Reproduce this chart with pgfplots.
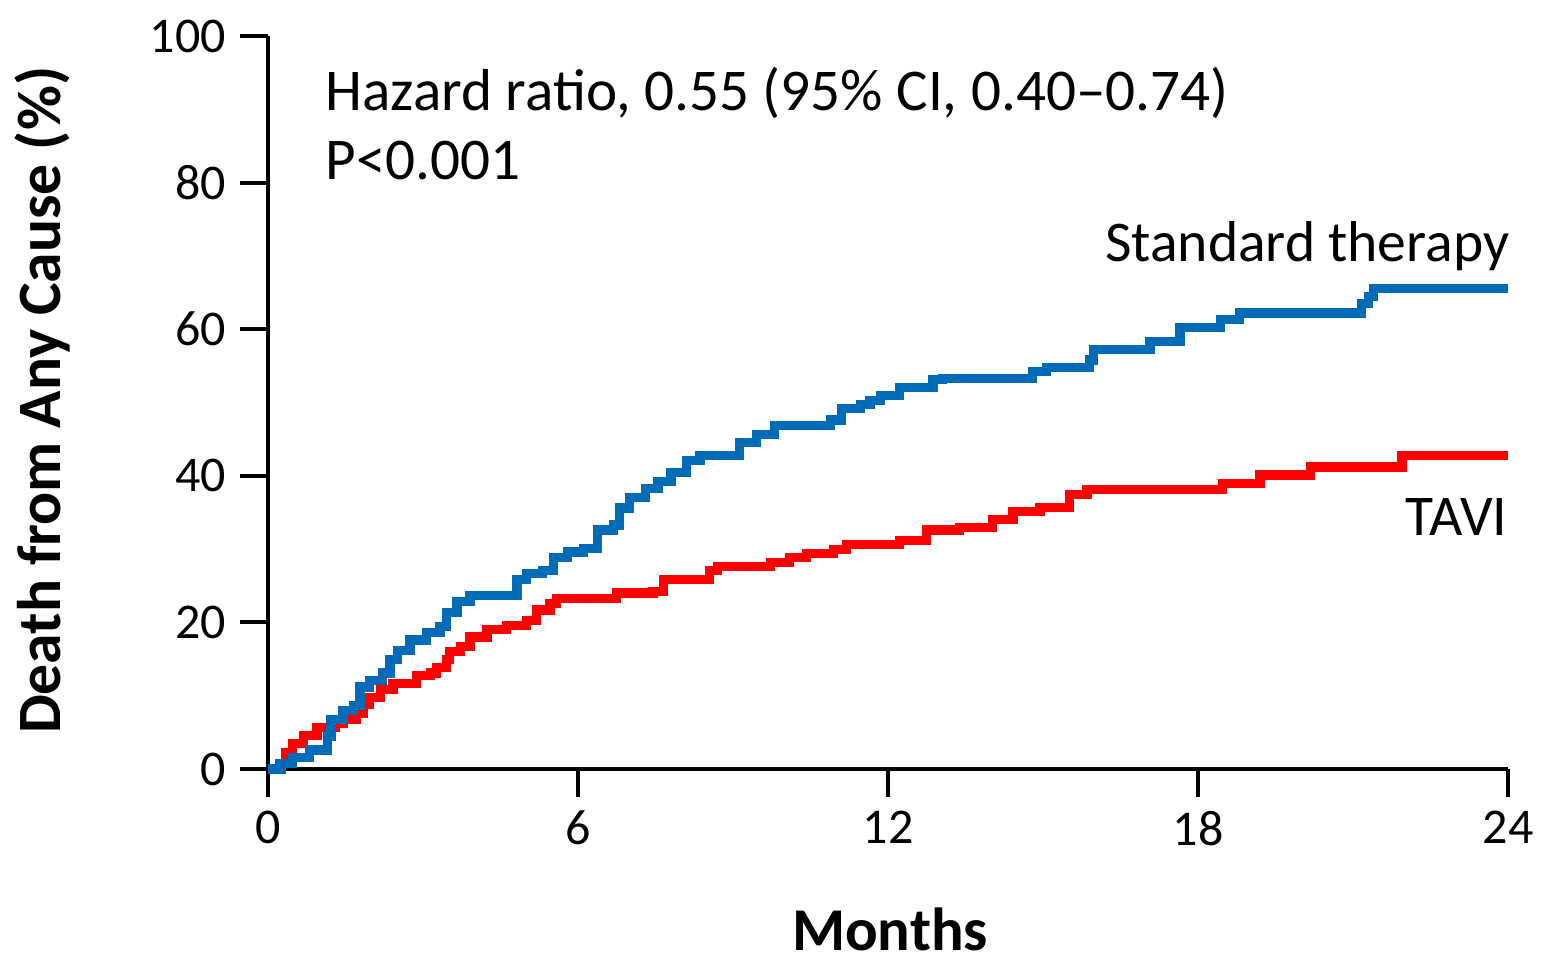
\documentclass[border=0pt]{standalone}
\usepackage{fontspec}
\setmainfont{Carlito}
\usepackage{pgfplots}
\pgfplotsset{compat=1.18}
\definecolor{stdblue}{RGB}{0,108,184}
\definecolor{tavired}{RGB}{255,0,0}
\begin{document}
\begin{tikzpicture}
\begin{axis}[
    scale only axis,
    width=310pt, height=183.25pt,
    xmin=0, xmax=24, ymin=0, ymax=100,
    axis lines=left,
    axis line style={-, line width=1pt},
    xtick={0,6,12,18,24},
    ytick={0,20,40,60,80,100},
    tick align=outside,
    major tick length=7pt,
    tick style={line width=1pt, black},
    tick label style={font=\fontsize{12.5}{14}\selectfont},
    /pgf/number format/assume math mode=true,
    clip=false,
]
\addplot[const plot, tavired, line width=2.3pt] coordinates {
(0,0) (0.23,0.8) (0.35,2.2) (0.48,3.5) (0.68,4.6) (0.95,5.7) (1.3,6.2)
(1.45,6.7) (1.72,7.6) (1.85,8.8) (1.97,9.8) (2.17,10.8) (2.42,11.7)
(2.88,12.8) (3.14,13.1) (3.26,13.9) (3.46,14.9) (3.52,16) (3.72,16.7)
(3.91,18) (4.24,19) (4.62,19.6) (5.0,20.3) (5.2,21.7) (5.46,22.6)
(5.59,23.3) (6.75,24) (7.45,24.2) (7.65,25.8) (8.55,27.1) (8.7,27.6)
(9.72,28.2) (10.1,28.9) (10.43,29.4) (10.94,29.9) (11.2,30.6) (12.23,31.2)
(12.75,32.6) (13.39,33) (14.03,34) (14.42,35.1) (14.94,35.7) (15.52,37.4)
(15.85,38.1) (18.48,39) (19.2,40.1) (20.17,41.2) (21.95,42.8) (24,42.8)
};
\addplot[const plot, stdblue, line width=2.3pt] coordinates {
(0,0) (0.25,0.8) (0.48,1.6) (0.81,2.6) (1.15,4.5) (1.22,6.7) (1.45,8)
(1.65,8.7) (1.78,11.2) (1.97,12.1) (2.22,13.1) (2.36,14.9) (2.5,16.2)
(2.75,17.6) (3.07,18.6) (3.33,19.4) (3.46,21.3) (3.66,22.8) (3.91,23.7)
(4.82,25.8) (5.0,26.7) (5.32,27.1) (5.52,28.9) (5.79,29.6) (6.1,30.1)
(6.37,32.6) (6.68,33.3) (6.81,35.6) (7.0,37) (7.3,38.3) (7.55,39.2)
(7.8,40.4) (8.1,42.1) (8.36,42.8) (9.12,44.5) (9.46,45.6) (9.81,46.9)
(10.88,47.6) (11.1,49.2) (11.46,49.7) (11.65,50.3) (11.85,51) (12.23,52)
(12.87,53.1) (13.06,53.3) (14.8,54.2) (15.07,54.8) (15.9,55.8) (15.97,57.2)
(17.07,58.3) (17.65,60.2) (18.43,61.3) (18.81,62.2) (21.17,63.5)
(21.3,64.5) (21.39,65.6) (24,65.6)
};
\node[anchor=base west, font=\fontsize{14.8}{17}\selectfont, inner sep=0pt]
    at (axis cs:1.1,89.9) {Hazard ratio, 0.55 (95\% CI, 0.40–0.74)};
\node[anchor=base west, font=\fontsize{14.8}{17}\selectfont, inner sep=0pt]
    at (axis cs:1.1,80.4) {P<0.001};
\node[anchor=base east, font=\fontsize{14.4}{17}\selectfont, inner sep=0pt]
    at (axis cs:24.04,69.2) {Standard therapy};
\node[anchor=base east, font=\fontsize{14.4}{17}\selectfont, inner sep=0pt]
    at (axis cs:24.0,31.9) {TAVI};
\node[rotate=90, anchor=center, font=\bfseries\fontsize{15.4}{18}\selectfont, inner sep=0pt]
    at (axis cs:-4.37,50.3) {Death from Any Cause (\%)};
\node[anchor=base, font=\bfseries\fontsize{15.2}{18}\selectfont, inner sep=0pt]
    at (axis cs:12.04,-24.7) {Months};
\coordinate (bl) at (axis cs:-5.187,-25.92);
\coordinate (tr) at (axis cs:24.755,104.91);
\end{axis}
\pgfresetboundingbox
\path (bl) rectangle (tr);
\end{tikzpicture}
\end{document}
